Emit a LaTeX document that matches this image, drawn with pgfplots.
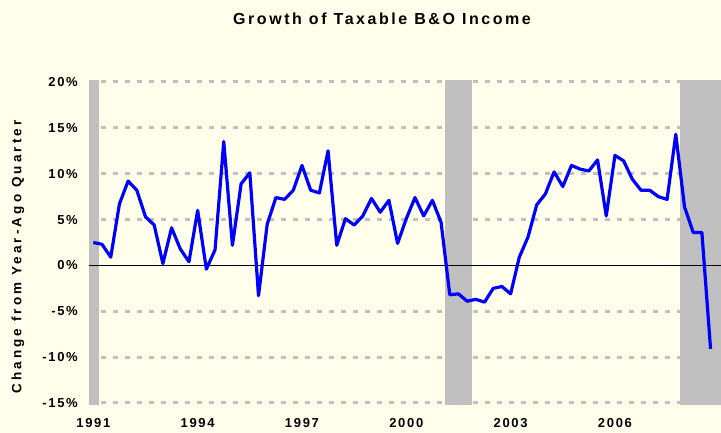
\documentclass[border=0pt]{standalone}
\usepackage{fontspec}
\setmainfont{Liberation Sans}
\newfontfamily\chartfont[LetterSpace=13]{Liberation Sans}
\newfontfamily\titlefont[LetterSpace=16]{Liberation Sans}
\newfontfamily\labelfont[LetterSpace=23]{Liberation Sans}
\usepackage{pgfplots}
\pgfplotsset{compat=1.18}
\definecolor{bgc}{RGB}{255,255,236}
\definecolor{band}{RGB}{192,192,192}
\pgfplotstableread{
q v
0 2.5
1 2.3
2 0.9
3 6.7
4 9.2
5 8.2
6 5.3
7 4.4
8 0.2
9 4.1
10 1.8
11 0.4
12 6.0
13 -0.4
14 1.7
15 13.5
16 2.2
17 8.9
18 10.1
19 -3.3
20 4.5
21 7.4
22 7.2
23 8.2
24 10.9
25 8.2
26 7.9
27 12.5
28 2.2
29 5.1
30 4.4
31 5.4
32 7.3
33 5.8
34 7.1
35 2.4
36 5.1
37 7.4
38 5.4
39 7.1
40 4.7
41 -3.2
42 -3.1
43 -3.9
44 -3.7
45 -4.0
46 -2.5
47 -2.3
48 -3.1
49 0.9
50 3.1
51 6.6
52 7.8
53 10.2
54 8.6
55 10.9
56 10.5
57 10.3
58 11.5
59 5.4
60 12.0
61 11.4
62 9.4
63 8.2
64 8.2
65 7.5
66 7.2
67 14.3
68 6.4
69 3.6
70 3.6
71 -9.1
}\growth
\begin{document}
\begin{tikzpicture}[x=1pt,y=1pt]
\fill[bgc] (0,0) rectangle (721,433);
\path[use as bounding box] (0,0) rectangle (721,433);
\begin{axis}[
  at={(89pt,30pt)}, anchor=south west,
  scale only axis, width=632pt, height=321pt,
  xmin=-0.5, xmax=72.2, ymin=-15, ymax=20,
  axis line style={draw=none},
  tick style={draw=none},
  major tick length=0pt,
  xtick={0,12,24,36,48,60},
  xticklabels={1991,1994,1997,2000,2003,2006},
  ytick={-15,-10,-5,0,5,10,15,20},
  yticklabels={-15\%,-10\%,-5\%,0\%,5\%,10\%,15\%,20\%},
  ticklabel style={font=\chartfont\bfseries\fontsize{13}{13}\selectfont, inner sep=0pt},
  xticklabel style={anchor=center, yshift=-20pt},
  yticklabel style={anchor=east, xshift=-11pt},
  extra y ticks={-15,-10,-5,5,10,15,20},
  extra y tick labels={},
  extra y tick style={ymajorgrids=true, major grid style={draw=band, line width=3pt, dash pattern=on 4.7pt off 7.3pt}},
  clip=false,
]
\addplot[draw=none, fill=band, mark=none, forget plot] coordinates {(-0.5,-15.17) (0.6,-15.17) (0.6,20.17) (-0.5,20.17)} -- cycle;
\addplot[draw=none, fill=band, mark=none, forget plot] coordinates {(40.5,-15.17) (43.55,-15.17) (43.55,20.17) (40.5,20.17)} -- cycle;
\addplot[draw=none, fill=band, mark=none, forget plot] coordinates {(67.5,-15.17) (72.2,-15.17) (72.2,20.17) (67.5,20.17)} -- cycle;
\addplot[black, line width=1pt, mark=none, forget plot] coordinates {(-0.5,0) (72.2,0)};
\addplot[blue, line width=3.2pt, mark=none, line join=round] table[x=q, y=v] {\growth};
\end{axis}
\node[font=\titlefont\bfseries\fontsize{16}{16}\selectfont] at (382,414) {Growth of Taxable B\&O Income};
\node[rotate=90, font=\labelfont\bfseries\fontsize{13.5}{13.5}\selectfont] at (18,176) {Change from Year-Ago Quarter};
\end{tikzpicture}
\end{document}
